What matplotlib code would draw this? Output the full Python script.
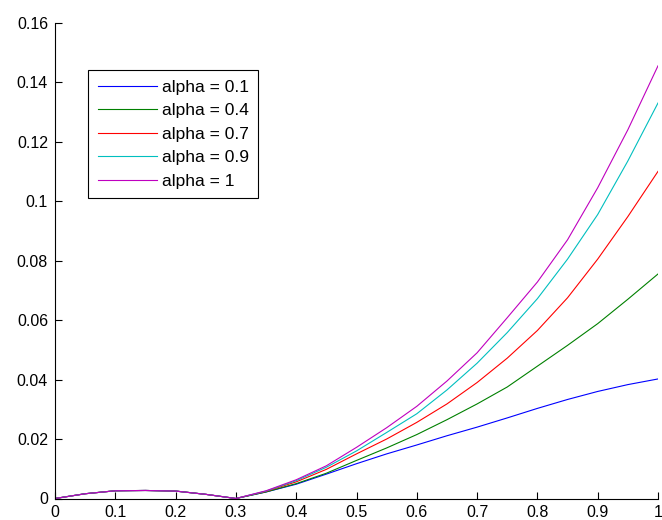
import numpy as np
import matplotlib.pyplot as plt

plt.rcParams['font.family'] = ['Liberation Sans', 'DejaVu Sans']

# x positions
x_bump = [0, 0.05, 0.1, 0.15, 0.2, 0.25]
x_tail = [0.3, 0.35, 0.4, 0.45, 0.5, 0.55, 0.6, 0.65, 0.7, 0.75, 0.8, 0.85, 0.9, 0.95, 1.0]

# small hump shared by all curves on [0, 0.3)
bump = [0, 0.0016, 0.0026, 0.0027, 0.0025, 0.0014]

labels = ['alpha = 0.1', 'alpha = 0.4', 'alpha = 0.7', 'alpha = 0.9', 'alpha = 1']
tail_01 = [0, 0.0022, 0.0048, 0.0082, 0.0117, 0.0150, 0.0180, 0.0211, 0.0240, 0.0271, 0.0303, 0.0333, 0.0360, 0.0383, 0.0402]
tail_04 = [0, 0.0022, 0.0050, 0.0085, 0.0128, 0.0170, 0.0215, 0.0265, 0.0318, 0.0375, 0.0445, 0.0515, 0.0588, 0.0670, 0.0755]
tail_07 = [0, 0.0024, 0.0056, 0.0098, 0.0150, 0.0200, 0.0256, 0.0318, 0.0390, 0.0472, 0.0565, 0.0675, 0.0805, 0.0948, 0.1100]
tail_09 = [0, 0.0025, 0.0060, 0.0105, 0.0160, 0.0222, 0.0285, 0.0365, 0.0455, 0.0558, 0.0672, 0.0805, 0.0955, 0.1135, 0.1330]
tail_10 = [0, 0.0026, 0.0063, 0.0110, 0.0172, 0.0238, 0.0310, 0.0395, 0.0490, 0.0608, 0.0728, 0.0870, 0.1045, 0.1240, 0.1455]
tails = [tail_01, tail_04, tail_07, tail_09, tail_10]

colors = ['#0000ff', '#008000', '#ff0000', '#00bfbf', '#bf00bf']

xticks = [0, 0.1, 0.2, 0.3, 0.4, 0.5, 0.6, 0.7, 0.8, 0.9, 1]
xticklabels = ['0', '0.1', '0.2', '0.3', '0.4', '0.5', '0.6', '0.7', '0.8', '0.9', '1']
yticks = [0, 0.02, 0.04, 0.06, 0.08, 0.1, 0.12, 0.14, 0.16]
yticklabels = ['0', '0.02', '0.04', '0.06', '0.08', '0.1', '0.12', '0.14', '0.16']

fig = plt.figure(figsize=(6.62, 5.2), dpi=100)
ax = fig.add_axes([55 / 662, 21.5 / 520, 603 / 662, 475.8 / 520])

x = np.array(x_bump + x_tail)
for lab, tail, c in zip(labels, tails, colors):
    ax.plot(x, bump + tail, color=c, lw=0.8, label=lab)

ax.set_xlim(0, 1)
ax.set_ylim(0, 0.16)
ax.set_xticks(xticks)
ax.set_xticklabels(xticklabels)
ax.set_yticks(yticks)
ax.set_yticklabels(yticklabels)
ax.tick_params(direction='in', length=5, width=0.8, labelsize=11.5, top=False, right=False)
ax.tick_params(axis='x', pad=5)
ax.tick_params(axis='y', pad=5)
ax.spines['top'].set_visible(False)
ax.spines['right'].set_visible(False)
for s in ['left', 'bottom']:
    ax.spines[s].set_linewidth(0.8)

leg = ax.legend(loc='upper left', bbox_to_anchor=(0.0547, 0.9006), borderaxespad=0,
                fontsize=12.5, handlelength=3.4, handletextpad=0.3, labelspacing=0.48,
                borderpad=0.55, fancybox=False, framealpha=1)
leg.get_frame().set_edgecolor('black')
leg.get_frame().set_linewidth(0.8)

fig.savefig('out.png', dpi=100)
